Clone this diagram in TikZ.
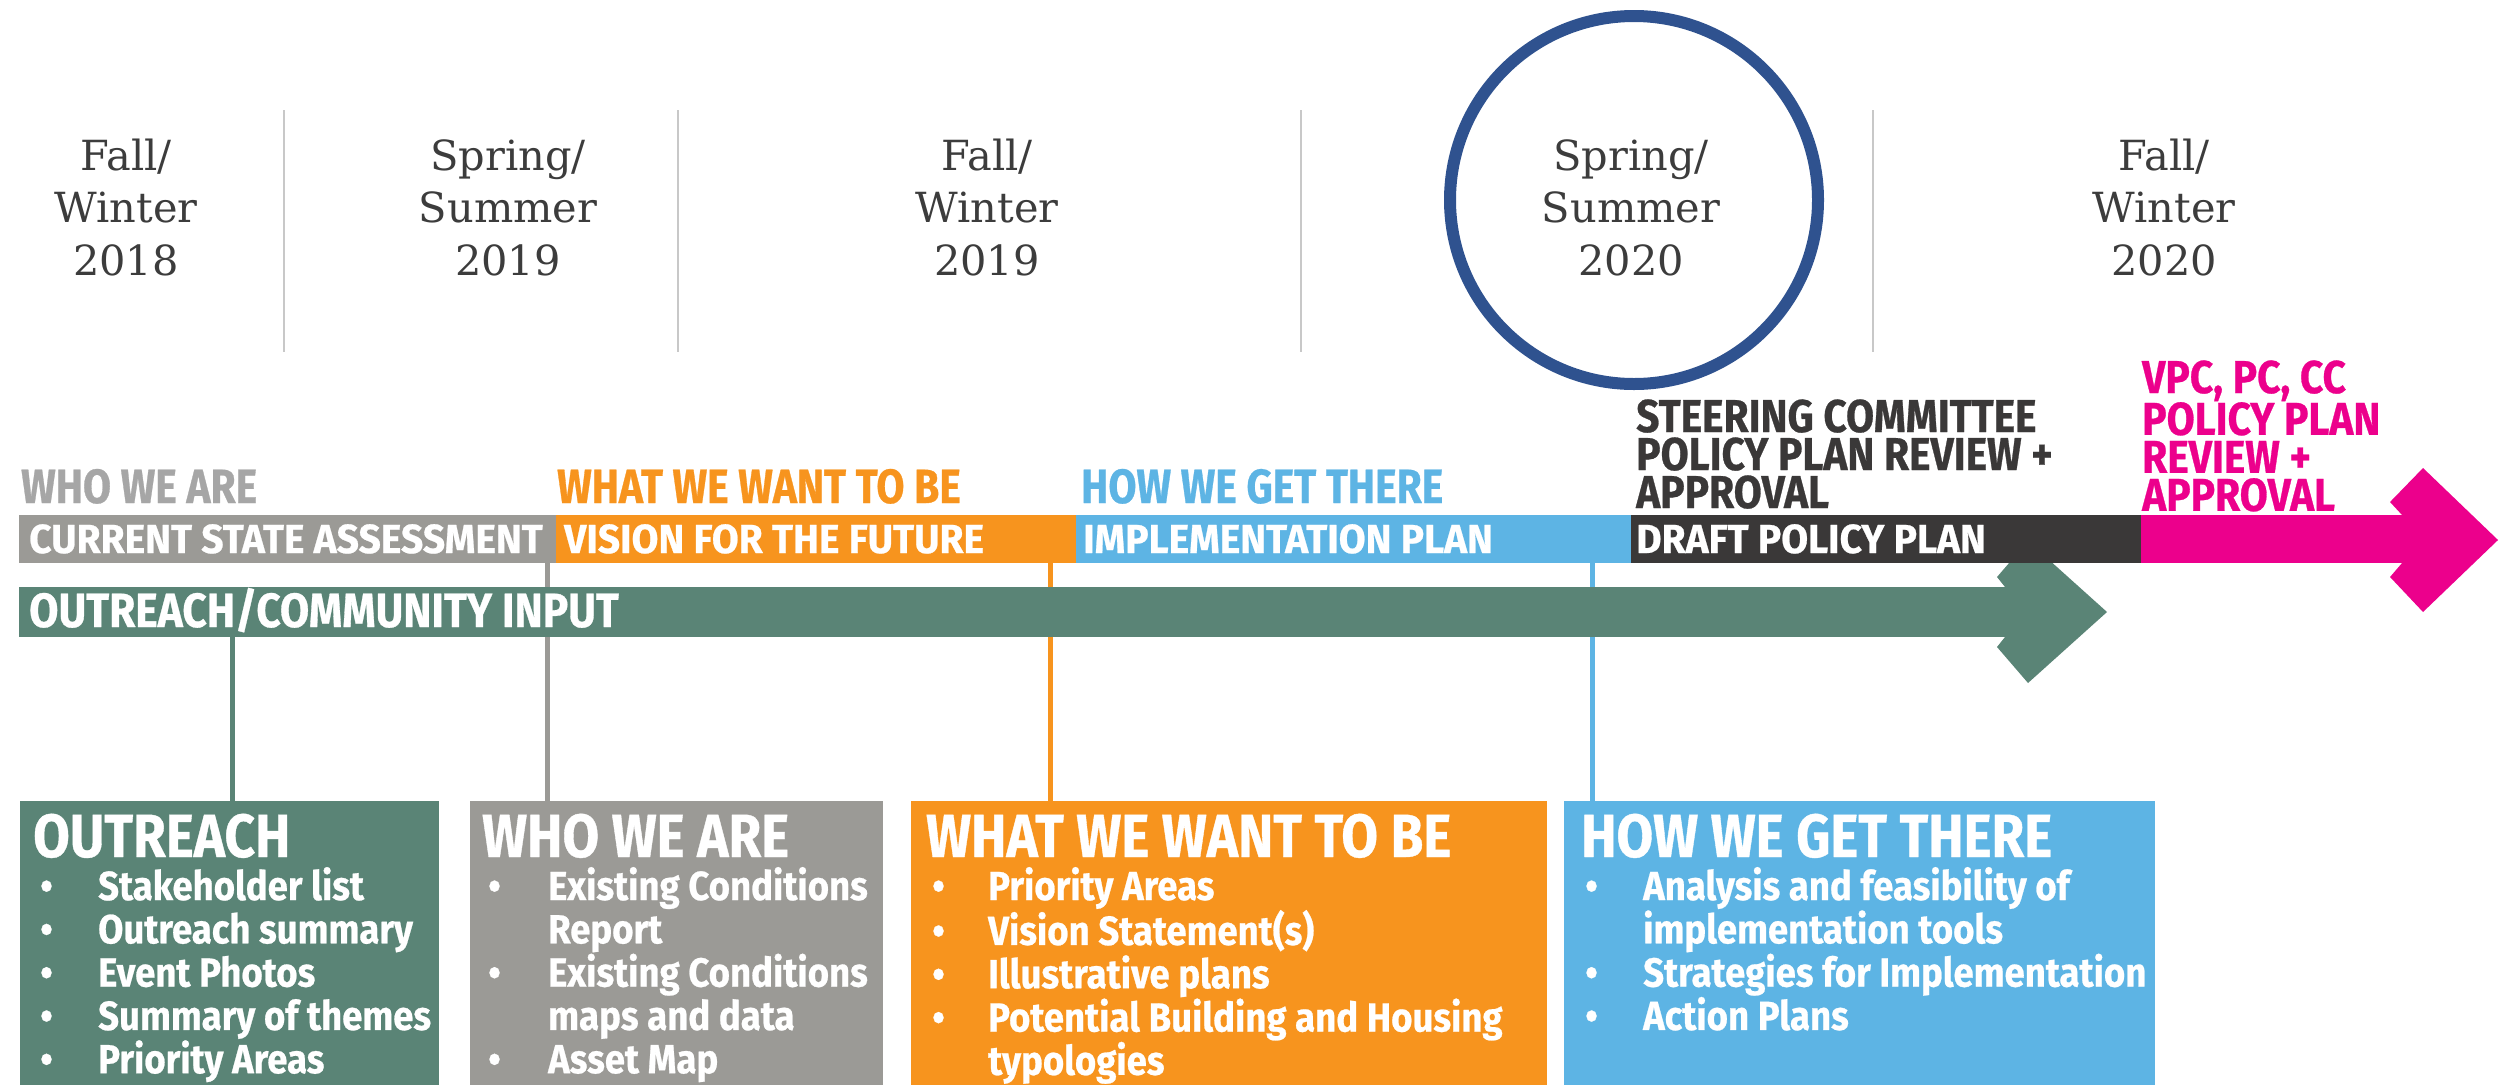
\documentclass[tikz,border=0pt]{standalone}
\usepackage{fontspec}
\newfontfamily\condA[FakeStretch=0.85, BoldFeatures={FakeBold=0.6}]{Fira Sans}
\newfontfamily\condB[FakeStretch=0.885, BoldFeatures={FakeBold=0.6}]{Fira Sans}
\newfontfamily\condC[FakeStretch=0.87, BoldFeatures={FakeBold=0.6}]{Fira Sans}
\newfontfamily\condD[FakeStretch=0.90, BoldFeatures={FakeBold=0.6}]{Fira Sans}
\newfontfamily\condE[FakeStretch=0.96, BoldFeatures={FakeBold=0.6}]{Fira Sans}
\newfontfamily\slab{DejaVu Serif}
\definecolor{greenc}{RGB}{90,132,118}
\definecolor{graybar}{RGB}{155,154,150}
\definecolor{graylbl}{RGB}{166,166,166}
\definecolor{orangec}{RGB}{247,148,30}
\definecolor{bluec}{RGB}{93,180,228}
\definecolor{darkc}{RGB}{58,56,56}
\definecolor{pinkc}{RGB}{236,0,140}
\definecolor{circc}{RGB}{47,82,143}
\definecolor{yeartxt}{RGB}{60,60,60}
\definecolor{sepc}{RGB}{200,200,200}
\pgfdeclarelayer{bg}
\pgfsetlayers{bg,main}
\begin{document}
\begin{tikzpicture}[x=1pt,y=-1pt,
  yr/.style={font=\slab\fontsize{41.5}{52.5}\selectfont, text=yeartxt, anchor=base, inner sep=0},
  lbl/.style={font=\condA\bfseries\fontsize{48}{38}\selectfont, anchor=base west, inner sep=0},
  stack/.style={font=\condB\bfseries\fontsize{46}{38}\selectfont, anchor=base west, inner sep=0},
  bartxt/.style={font=\condE\bfseries\fontsize{40.6}{40}\selectfont, text=white, anchor=base west, inner sep=0},
  bigtxt/.style={font=\condB\bfseries\fontsize{48}{40}\selectfont, text=white, anchor=base west, inner sep=0},
  bar/.style={anchor=north west, inner sep=0, outer sep=0, minimum height=48pt},
  box/.style={anchor=north west, inner sep=0, outer sep=0, minimum height=284pt},
  ttl/.style={font=\condC\bfseries\fontsize{61}{61}\selectfont, text=white, anchor=base west, inner sep=0},
  blist/.style={font=\condD\bfseries\fontsize{40.6}{43.3}\selectfont, text=white, anchor=base west, inner sep=0},
  conn/.style={line width=5pt},
  sep/.style={draw=sepc, line width=2pt}
]
\useasboundingbox (0,0) rectangle (2499,1085);
\clip (0,0) rectangle (2499,1085);

% separators
\draw[sep] (284,110) -- (284,352);
\draw[sep] (678,110) -- (678,352);
\draw[sep] (1301,110) -- (1301,352);
\draw[sep] (1873,110) -- (1873,352);

% year labels
\node[yr] (y1) at (126,170) {\vtop{\halign{\hfil#\hfil\cr Fall/\cr Winter\cr 2018\cr}}};
\node[yr] (y2) at (508,170) {\vtop{\halign{\hfil#\hfil\cr Spring/\cr Summer\cr 2019\cr}}};
\node[yr] (y3) at (987,170) {\vtop{\halign{\hfil#\hfil\cr Fall/\cr Winter\cr 2019\cr}}};
\node[yr] (y4) at (1631,170) {\vtop{\halign{\hfil#\hfil\cr Spring/\cr Summer\cr 2020\cr}}};
\node[yr] (y5) at (2164,170) {\vtop{\halign{\hfil#\hfil\cr Fall/\cr Winter\cr 2020\cr}}};

% highlight circle
\draw[circc, line width=12pt] (1634,200) circle[radius=184];

% labels above bars
\node[lbl, text=graylbl] (l1) at (21,503) {WHO WE ARE};
\node[lbl, text=orangec] (l2) at (557,503) {WHAT WE WANT TO BE};
\node[lbl, text=bluec] (l3) at (1081,503) {HOW WE GET THERE};
\node[stack, text=darkc] (l4) at (1636,432)
  {\vtop{\hbox{STEERING COMMITTEE}\hbox{POLICY PLAN REVIEW +}\hbox{APPROVAL}}};
\node[stack, text=pinkc] (l5) at (2142,393)
  {\vtop{\hbox{VPC, PC, CC}\hbox{POLICY PLAN}\hbox{REVIEW +}\hbox{APPROVAL}}};

% green arrow
\node[bar, fill=greenc, minimum width=1986pt, minimum height=50pt] (greenbar) at (19,587) {};
\fill[greenc] (greenbar.north east) -- (1997,577) -- (2028,541) -- (2107,612)
  -- (2028,683) -- (1997,647) -- (greenbar.south east) -- cycle;

% phase bars
\node[bar, fill=graybar, minimum width=537pt] (graybar) at (19,515) {};
\node[bar, fill=orangec, minimum width=520pt] (orangebar) at (556,515) {};
\node[bar, fill=bluec, minimum width=555pt] (bluebar) at (1076,515) {};
\node[bar, fill=darkc, minimum width=510pt] (darkbar) at (1631,515) {};
\node[bar, fill=pinkc, minimum width=261pt] (pinkbar) at (2141,515) {};
\fill[pinkc] (pinkbar.north east) -- (2390,502) -- (2423,468) -- (2498,540)
  -- (2423,612) -- (2390,577) -- (pinkbar.south east) -- cycle;

% bar texts
\node[bartxt] (t1) at (29,553) {CURRENT STATE ASSESSMENT};
\node[bartxt] (t2) at (564,553) {VISION FOR THE FUTURE};
\node[bartxt] (t3) at (1083,553) {IMPLEMENTATION PLAN};
\node[bartxt] (t4) at (1636,553) {DRAFT POLICY PLAN};
\node[bigtxt] (t5) at (29,627) {OUTREACH/COMMUNITY INPUT};

% boxes
\node[box, fill=greenc, minimum width=419pt] (outbox) at (20,801) {};
\node[box, fill=graybar, minimum width=413pt] (whobox) at (470,801) {};
\node[box, fill=orangec, minimum width=636pt] (wantbox) at (911,801) {};
\node[box, fill=bluec, minimum width=591pt] (howbox) at (1564,801) {};

% connectors
\begin{pgfonlayer}{bg}
\draw[conn, greenc] (232,0 |- greenbar.south) -- (232,0 |- outbox.north);
\draw[conn, graybar] (547,0 |- graybar.south) -- (547,0 |- whobox.north);
\draw[conn, orangec] (1050,0 |- orangebar.south) -- (1050,0 |- wantbox.north);
\draw[conn, bluec] (1592,0 |- bluebar.south) -- (1592,0 |- howbox.north);
\end{pgfonlayer}

% box titles
\node[ttl] (h1) at (33,857) {OUTREACH};
\node[ttl] (h2) at (482,857) {WHO WE ARE};
\node[ttl] (h3) at (926,857) {WHAT WE WANT TO BE};
\node[ttl] (h4) at (1581,857) {HOW WE GET THERE};

% bullet lists
\node[blist] (b1) at (40,900) {\vtop{%
  \hbox{\makebox[58pt][l]{•}Stakeholder list}
  \hbox{\makebox[58pt][l]{•}Outreach summary}
  \hbox{\makebox[58pt][l]{•}Event Photos}
  \hbox{\makebox[58pt][l]{•}Summary of themes}
  \hbox{\makebox[58pt][l]{•}Priority Areas}}};
\node[blist] (b2) at (488,900) {\vtop{%
  \hbox{\makebox[60pt][l]{•}Existing Conditions}
  \hbox{\makebox[60pt][l]{}Report}
  \hbox{\makebox[60pt][l]{•}Existing Conditions}
  \hbox{\makebox[60pt][l]{}maps and data}
  \hbox{\makebox[60pt][l]{•}Asset Map}}};
\node[blist] (b3) at (932,900) {\vtop{%
  \hbox{\makebox[56pt][l]{•}Priority Areas}
  \hbox{\makebox[56pt][l]{•}Vision Statement(s)}
  \hbox{\makebox[56pt][l]{•}Illustrative plans}
  \hbox{\makebox[56pt][l]{•}Potential Building and Housing}
  \hbox{\makebox[56pt][l]{}typologies}}};
\node[blist] (b4) at (1585,900) {\vtop{%
  \hbox{\makebox[58pt][l]{•}Analysis and feasibility of}
  \hbox{\makebox[58pt][l]{}implementation tools}
  \hbox{\makebox[58pt][l]{•}Strategies for Implementation}
  \hbox{\makebox[58pt][l]{•}Action Plans}}};
\end{tikzpicture}
\end{document}
